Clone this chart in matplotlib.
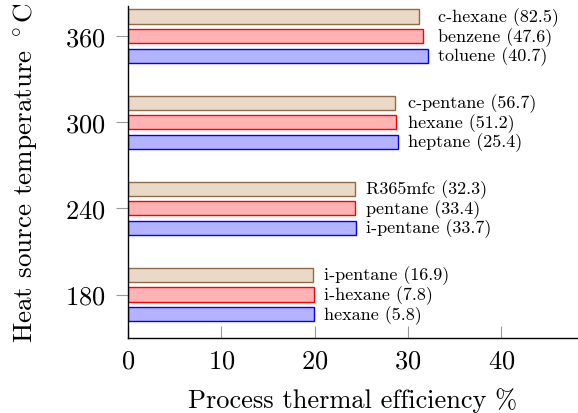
import matplotlib
matplotlib.use("Agg")
import matplotlib.pyplot as plt
import numpy as np

# heat source temperatures (group positions on y)
temps = [180, 240, 300, 360]

# process thermal efficiency % for the three fluids per group (top, middle, bottom)
top_vals = [19.8, 24.3, 28.6, 31.2]
mid_vals = [19.9, 24.3, 28.7, 31.6]
bot_vals = [19.9, 24.4, 28.9, 32.1]

top_labels = ['i-pentane (16.9)', 'R365mfc (32.3)', 'c-pentane (56.7)', 'c-hexane (82.5)']
mid_labels = ['i-hexane (7.8)', 'pentane (33.4)', 'hexane (51.2)', 'benzene (47.6)']
bot_labels = ['hexane (5.8)', 'i-pentane (33.7)', 'heptane (25.4)', 'toluene (40.7)']

xticks = [0, 10, 20, 30, 40]

plt.rcParams['font.family'] = 'cmr10'
plt.rcParams['mathtext.fontset'] = 'cm'
plt.rcParams['axes.formatter.use_mathtext'] = True

fig = plt.figure(figsize=(5.78, 4.14), dpi=100)
ax = fig.add_axes([128 / 578, 75 / 414, 450 / 578, 332 / 414])

offset = 13.7
height = 9.8
y = np.array(temps, dtype=float)

series = [
    (y + offset, top_vals, '#ead9c6', '#8f6b48', top_labels),
    (y, mid_vals, '#ffb3b3', '#ff0000', mid_labels),
    (y - offset, bot_vals, '#b3b3ff', '#0000ff', bot_labels),
]

group_max = np.max([top_vals, mid_vals, bot_vals], axis=0)

for ypos, vals, fc, ec, labels in series:
    ax.barh(ypos, vals, height=height, color=fc, edgecolor=ec, linewidth=1.0)
    for yy, gm, lab in zip(ypos, group_max, labels):
        ax.annotate(lab, xy=(gm, yy), xytext=(7.5, 0), textcoords='offset points',
                    ha='left', va='center', fontsize=13)

ax.set_xlim(0, 48.2)
ax.set_ylim(149.7, 381)
ax.set_xticks(xticks)
ax.set_yticks(temps)

for s in ['top', 'right']:
    ax.spines[s].set_visible(False)
for s in ['left', 'bottom']:
    ax.spines[s].set_linewidth(1.0)
    ax.spines[s].set_color('black')

ax.tick_params(axis='x', direction='in', length=8.5, width=0.8, color='#999999',
               labelsize=19, pad=8)
ax.tick_params(axis='y', direction='out', length=8.5, width=0.8, color='#999999',
               labelsize=19, pad=8)

ax.set_xlabel('Process thermal efficiency %', fontsize=19, labelpad=10.5)
ax.set_ylabel(r'Heat source temperature $^\circ$C', fontsize=19.5)
ax.yaxis.set_label_coords(-0.195, 0.5)

fig.savefig('out.png', dpi=100)
